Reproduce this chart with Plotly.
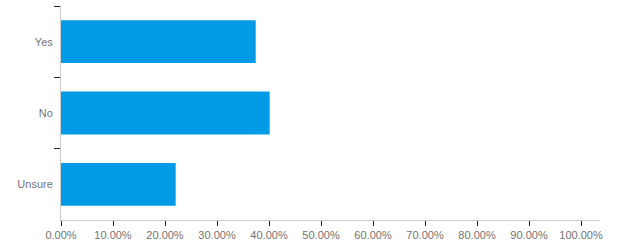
import plotly.graph_objects as go

categories = ["Yes", "No", "Unsure"]
values = [37.44, 40.13, 22.05]
x_tick_vals = [0, 10, 20, 30, 40, 50, 60, 70, 80, 90, 100]
x_tick_text = ["0.00%", "10.00%", "20.00%", "30.00%", "40.00%", "50.00%",
               "60.00%", "70.00%", "80.00%", "90.00%", "100.00%"]

fig = go.Figure(go.Bar(
    x=values, y=categories, orientation="h",
    marker=dict(color="#039BE5", line=dict(width=0)),
    width=0.6, hoverinfo="skip",
))

fig.update_layout(
    width=630, height=250,
    margin=dict(l=61, r=30, t=6, b=30),
    paper_bgcolor="white", plot_bgcolor="white",
    font=dict(family="Liberation Sans, Arial, sans-serif", size=11, color="#737373"),
    showlegend=False,
    xaxis=dict(
        range=[0, 103.65], tickvals=x_tick_vals, ticktext=x_tick_text,
        showgrid=False, zeroline=False, showline=True, linecolor="#cccccc", linewidth=1,
        ticks="outside", ticklen=5, tickcolor="#222222", tickwidth=1,
        fixedrange=True,
    ),
    yaxis=dict(
        autorange="reversed", categoryorder="array", categoryarray=categories,
        showgrid=False, zeroline=False, showline=True, linecolor="#cccccc", linewidth=1,
        ticks="outside", ticklen=6, tickcolor="#222222", tickwidth=1,
        tickson="boundaries", ticklabelstandoff=5, fixedrange=True,
    ),
)

fig.write_html("out.html")
